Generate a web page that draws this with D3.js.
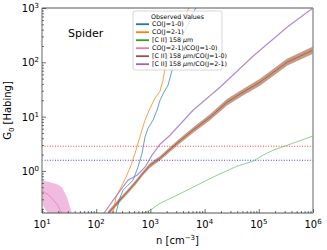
<!DOCTYPE html>
<html><head><meta charset="utf-8">
<script src="https://cdn.jsdelivr.net/npm/d3@7/dist/d3.min.js"></script>
<style>body{margin:0;background:#fff}svg{display:block;font-family:"DejaVu Sans",sans-serif}</style>
</head><body><svg id="c" width="327" height="250"></svg>
<script>
// ---- data (n in cm^-3, G0 in Habing) ----
const coN   = [232,264,312,386,478,590,700,794,904,1117,1324,1503,1782,2113,2399,2965,3990,5383,7244];
const coG   = [0.166,0.288,0.441,0.546,0.675,1.17,2.12,4.18,6.11,8.59,13.1,20.0,28.1,37.8,60.4,135,315,596,1127];
const co21N = [204,232,287,355,439,542,671,794,984,1216,1503,1706,1858,2301,3228,4345,5383];
const co21G = [0.166,0.328,0.501,0.766,1.27,2.40,4.94,8.59,14.3,21.8,29.4,46.8,77.8,190,390,706,1127];
const ciiN  = [10,11.9,null,730,984,1503,3097,7244,16940,39630,78160,119400,182800,376700,1000000];
const ciiG  = [0.189,0.16,null,0.166,0.189,0.254,0.357,0.546,0.834,1.22,1.51,1.95,2.40,3.10,4.40];
const ratioCoN  = [10,12.9,14.1,18.9,23.4,28.9,35.7];
const ratioCoG  = [0.441,0.365,0.342,0.244,0.166,0.12,0.08];
const ratioCoLo = [0.244,0.166,0.15,0.12,0.10,0.08,0.06];
const ratioCoHi = [0.675,0.633,0.619,0.569,0.501,0.328,0.166];
const cii10N  = [165,242,370,520,730,984,1503,3097,6109,12590,25880,51050,105200,331100,1000000];
const cii10G  = [0.166,0.254,0.405,0.594,0.908,1.27,1.71,3.24,5.62,9.75,18.4,28.1,43.0,100,168];
const cii10Lo = [0.15,0.23,0.37,0.54,0.83,1.15,1.55,2.9,5.0,8.6,16.1,24.5,37.2,86,144];
const cii10Hi = [0.18,0.28,0.44,0.65,0.99,1.40,1.89,3.6,6.3,11.0,21.0,32.2,49.7,116,195];
const cii21N  = [139,204,299,386,566,794,1072,1503,2301,6109,19230,78160,331100,1000000];
const cii21G  = [0.166,0.288,0.480,0.675,0.834,1.17,1.95,3.10,4.54,13.1,34.8,129,443,1000];
const hLines  = [2.85, 1.57];
const hColors = ["#ff2020","#2020ff"];
const xTicks = [10,100,1000,10000,100000,1000000];
const xTickExp = ["1","2","3","4","5","6"];
const yTicks = [1,10,100,1000];
const yTickExp = ["0","1","2","3"];
const legendLabels = ["CO(J=1-0)","CO(J=2-1)","[C II] 158 μm","CO(J=2-1)/CO(J=1-0)","[C II] 158 μm/CO(J=1-0)","[C II] 158 μm/CO(J=2-1)"];
const colors = ["#1f77b4","#ff7f0e","#2ca02c","#e377c2","#8c564b","#9467bd"];
const lineOpacity = [0.7,0.75,0.5,0.7,0.75,0.75];

const L=42,R=313,T=8,B=213;
const svg=d3.select("#c");
const x=d3.scaleLog().domain([10,1e6]).range([L,R]);
const y=d3.scaleLog().domain([0.168,1000]).range([B,T]);

svg.append("defs").append("clipPath").attr("id","clip").append("rect")
  .attr("x",L).attr("y",T).attr("width",R-L).attr("height",B-T);
const g=svg.append("g").attr("clip-path","url(#clip)");

function pts(N,G){return N.map((n,i)=>[n,G[i]]);}
const line=d3.line().defined(d=>d[0]!=null&&d[1]!=null).x(d=>x(d[0])).y(d=>y(d[1]));
const area=d3.area().x(d=>x(d[0])).y0(d=>y(d[1])).y1(d=>y(d[2]));

// bands
g.append("path").datum(ratioCoN.map((n,i)=>[n,ratioCoLo[i],ratioCoHi[i]]))
  .attr("d",area).attr("fill",colors[3]).attr("fill-opacity",0.5);
g.append("path").datum(cii10N.map((n,i)=>[n,cii10Lo[i],cii10Hi[i]]))
  .attr("d",area).attr("fill","#a85c35").attr("fill-opacity",0.62);

// horizontal reference lines
hLines.forEach((v,i)=>{
  g.append("line").attr("x1",L).attr("x2",R).attr("y1",y(v)).attr("y2",y(v))
   .attr("stroke",hColors[i]).attr("stroke-width",1.1).attr("stroke-dasharray","1,1.6").attr("opacity",0.85);
});

const series=[[coN,coG,1],[co21N,co21G,1],[ciiN,ciiG,1],[ratioCoN,ratioCoG,1],[cii10N,cii10G,1],[cii21N,cii21G,1.2]];
series.forEach((s,i)=>{
  g.append("path").datum(pts(s[0],s[1])).attr("d",line).attr("fill","none")
   .attr("stroke",colors[i]).attr("stroke-width",s[2]).attr("stroke-opacity",lineOpacity[i]);
});

// spines
svg.append("line").attr("x1",L).attr("x2",R).attr("y1",T).attr("y2",T).attr("stroke","#555").attr("stroke-width",1);
svg.append("line").attr("x1",L).attr("x2",R).attr("y1",B).attr("y2",B).attr("stroke","#555").attr("stroke-width",1);
svg.append("line").attr("x1",L).attr("x2",L).attr("y1",T).attr("y2",B).attr("stroke","#999").attr("stroke-width",1.5);
svg.append("line").attr("x1",R).attr("x2",R).attr("y1",T).attr("y2",B).attr("stroke","#999").attr("stroke-width",1.5);

// ticks (inside)
const xAx=d3.axisBottom(x).tickValues(xTicks).tickSize(-4).tickFormat("");
svg.append("g").attr("transform",`translate(0,${B})`).call(xAx);
const xMinor=[];for(let d=10;d<1e6;d*=10)for(let k=2;k<10;k++)xMinor.push(d*k);
svg.append("g").attr("transform",`translate(0,${B})`).call(d3.axisBottom(x).tickValues(xMinor).tickSize(-2).tickFormat(""));
const yAx=d3.axisLeft(y).tickValues(yTicks).tickSize(-4).tickFormat("");
svg.append("g").attr("transform",`translate(${L},0)`).call(yAx);
const yMinor=[];for(let d=0.1;d<1000;d*=10)for(let k=2;k<10;k++){const v=d*k;if(v>=0.168&&v<=1000)yMinor.push(v);}
svg.append("g").attr("transform",`translate(${L},0)`).call(d3.axisLeft(y).tickValues(yMinor).tickSize(-2).tickFormat(""));
svg.selectAll(".domain").remove();
svg.selectAll(".tick line").attr("stroke","#333").attr("stroke-width",0.7);

// tick labels
xTicks.forEach((v,i)=>{
  const t=svg.append("text").attr("x",x(v)).attr("y",B+15).attr("text-anchor","middle").attr("font-size",10).attr("fill","#000");
  t.append("tspan").text("10");
  t.append("tspan").attr("dy",-4).attr("font-size",7).text(xTickExp[i]);
});
yTicks.forEach((v,i)=>{
  const t=svg.append("text").attr("x",L-3).attr("y",y(v)+4).attr("text-anchor","end").attr("font-size",10).attr("fill","#000");
  t.append("tspan").text("10");
  t.append("tspan").attr("dy",-4).attr("font-size",7).text(yTickExp[i]);
});

// axis labels
const xl=svg.append("text").attr("x",(L+R)/2).attr("y",244).attr("text-anchor","middle").attr("font-size",10);
xl.append("tspan").text("n [cm");
xl.append("tspan").attr("dy",-4).attr("font-size",7).text("−3");
xl.append("tspan").attr("dy",4).text("]");
const yl=svg.append("text").attr("transform",`translate(11,${(T+B)/2}) rotate(-90)`).attr("text-anchor","middle").attr("font-size",10);
yl.append("tspan").text("G");
yl.append("tspan").attr("dy",2.5).attr("font-size",7).text("0");
yl.append("tspan").attr("dy",-2.5).text(" [Habing]");

// panel label
svg.append("text").attr("x",68).attr("y",37).attr("font-size",11).text("Spider");

// legend
const lg=svg.append("g");
lg.append("rect").attr("x",133).attr("y",11).attr("width",89).attr("height",59).attr("rx",2)
  .attr("fill","#fff").attr("fill-opacity",0.8).attr("stroke","#ccc").attr("stroke-width",0.8);
lg.append("text").attr("x",177.5).attr("y",18.5).attr("text-anchor","middle").attr("font-size",6.3).text("Observed Values");
legendLabels.forEach((lab,i)=>{
  const yy=24.2+i*8;
  lg.append("line").attr("x1",136).attr("x2",149).attr("y1",yy).attr("y2",yy).attr("stroke",colors[i]).attr("stroke-width",1.8);
  const t=lg.append("text").attr("x",152).attr("y",yy+2.2).attr("font-size",6.3);
  const parts=lab.split("μ");
  if(parts.length>1){
    t.append("tspan").text(parts[0]);
    t.append("tspan").attr("font-style","italic").text("μ");
    t.append("tspan").text(parts[1]);
  } else t.text(lab);
});
</script></body></html>
